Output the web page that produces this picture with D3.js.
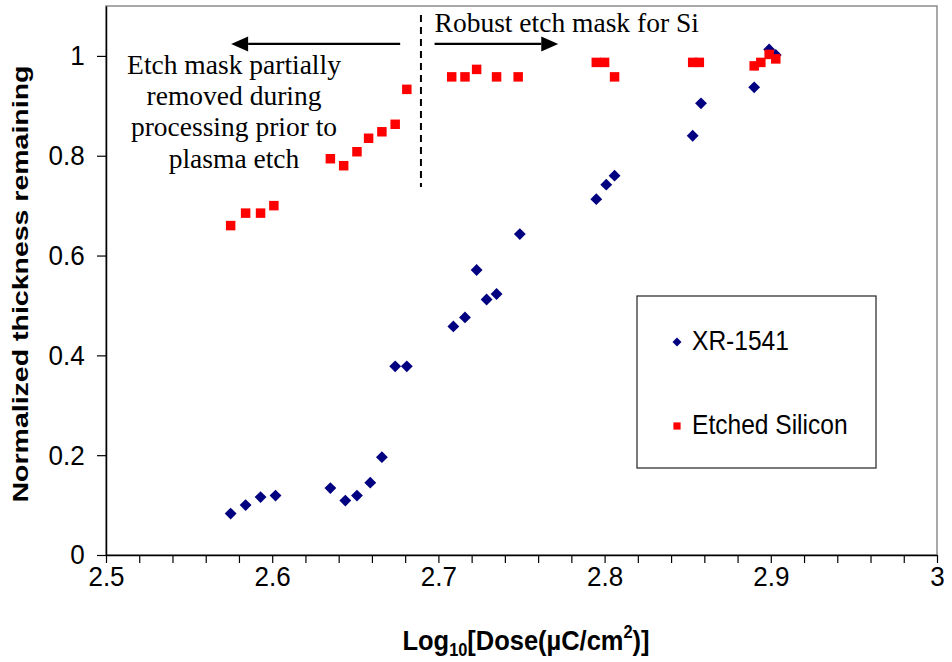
<!DOCTYPE html>
<html>
<head>
<meta charset="utf-8">
<script src="https://cdn.jsdelivr.net/npm/d3@7"></script>
<style>
  body { margin: 0; background: #fff; }
  svg { display: block; }
</style>
</head>
<body>
<svg id="chart" width="952" height="662"></svg>
<script>
// Normalized thickness vs log dose
const xrDose = [2.575, 2.584, 2.593, 2.602, 2.635, 2.644, 2.651, 2.659, 2.666, 2.674, 2.681,
  2.709, 2.716, 2.723, 2.729, 2.735, 2.749, 2.795, 2.801, 2.806, 2.853, 2.858, 2.890, 2.899, 2.903];
const xrThick = [0.083, 0.100, 0.116, 0.119, 0.134, 0.109, 0.119, 0.145, 0.196, 0.378, 0.378,
  0.458, 0.476, 0.571, 0.512, 0.523, 0.643, 0.713, 0.742, 0.760, 0.840, 0.905, 0.937, 1.013, 1.002];

const siDose = [2.575, 2.584, 2.593, 2.601, 2.635, 2.643, 2.651, 2.658, 2.666, 2.674, 2.681,
  2.708, 2.716, 2.723, 2.735, 2.748, 2.795, 2.800, 2.806, 2.853, 2.857, 2.890, 2.894, 2.899, 2.903];
const siThick = [0.660, 0.685, 0.685, 0.700, 0.794, 0.780, 0.808, 0.835, 0.848, 0.863, 0.933,
  0.958, 0.958, 0.973, 0.958, 0.958, 0.987, 0.987, 0.958, 0.987, 0.987, 0.980, 0.987, 1.003, 0.994];

const xTicks = d3.range(0, 26).map((i) => 2.5 + i * 0.02);
const yTicks = [0, 0.2, 0.4, 0.6, 0.8, 1];
const seriesNames = ["XR-1541", "Etched Silicon"];
const leftNote = ["Etch mask partially", "removed during", "processing prior to", "plasma etch"];
const rightNote = "Robust etch mask for Si";

const svg = d3.select("#chart");
const plot = { left: 106, right: 937, top: 6, bottom: 555 };

const x = d3.scaleLinear().domain([2.5, 3]).range([plot.left, plot.right]);
const y = d3.scaleLinear().domain([0, 1.1]).range([plot.bottom, plot.top]);

const tickFont = "'Liberation Sans', Arial, sans-serif";
const squeeze = 0.93;

// plot frame (top/right grey edges)
svg.append("rect")
  .attr("x", plot.left).attr("y", y(1.1))
  .attr("width", plot.right - plot.left).attr("height", plot.bottom - y(1.1))
  .attr("fill", "none").attr("stroke", "#8c8c8c").attr("stroke-width", 1.5);

// x axis with minor ticks every 0.02
const xAxis = svg.append("g")
  .attr("transform", `translate(0,${plot.bottom})`)
  .call(d3.axisBottom(x)
    .tickValues(xTicks)
    .tickSize(8).tickSizeOuter(0).tickPadding(3)
    .tickFormat((v) => Math.round(v * 100) % 10 === 0 ? String(+v.toFixed(1)) : ""));

const yAxis = svg.append("g")
  .attr("transform", `translate(${plot.left},0)`)
  .call(d3.axisLeft(y)
    .tickValues(yTicks)
    .tickSize(9).tickSizeOuter(0).tickPadding(14)
    .tickFormat((v) => String(+v.toFixed(1))));

[xAxis, yAxis].forEach((g) => {
  g.select(".domain").attr("stroke", "#000").attr("stroke-width", 1.5);
  g.selectAll(".tick line").attr("stroke", "#000").attr("stroke-width", 1.2);
  g.selectAll(".tick text")
    .attr("font-family", tickFont).attr("font-size", 28).attr("fill", "#000")
    .attr("transform", `scale(${squeeze},1)`);
});

// axis titles
svg.append("text")
  .attr("transform", `translate(28,284) rotate(-90) scale(1,0.78)`)
  .attr("text-anchor", "middle")
  .attr("font-family", tickFont).attr("font-weight", "bold").attr("font-size", 28.5)
  .text("Normalized thickness remaining");

const xTitle = svg.append("text")
  .attr("transform", `translate(526,650) scale(0.91,1)`)
  .attr("text-anchor", "middle")
  .attr("font-family", tickFont).attr("font-weight", "bold").attr("font-size", 28);
xTitle.append("tspan").text("Log");
xTitle.append("tspan").attr("font-size", 18).attr("dy", 6).text("10");
xTitle.append("tspan").attr("dy", -6).text("[Dose(\u00B5C/cm");
xTitle.append("tspan").attr("font-size", 18).attr("dy", -12).text("2");
xTitle.append("tspan").attr("dy", 12).text(")]");

// markers
const diamond = d3.symbol().type(d3.symbolSquare).size(70)();
const square = d3.symbol().type(d3.symbolSquare).size(90)();

svg.append("g").selectAll("path")
  .data(xrDose.map((d, i) => [d, xrThick[i]]))
  .join("path")
  .attr("d", diamond)
  .attr("transform", (d) => `translate(${x(d[0])},${y(d[1])}) rotate(45)`)
  .attr("fill", "#000080");

svg.append("g").selectAll("path")
  .data(siDose.map((d, i) => [d, siThick[i]]))
  .join("path")
  .attr("d", square)
  .attr("transform", (d) => `translate(${x(d[0])},${y(d[1])})`)
  .attr("fill", "#ff0000");

// annotations: divider and arrows
const divX = x(2.6895);
svg.append("line")
  .attr("x1", divX).attr("x2", divX)
  .attr("y1", y(1.082)).attr("y2", y(0.7375))
  .attr("stroke", "#000").attr("stroke-width", 2).attr("stroke-dasharray", "7,5");

function arrow(x0, x1, yy) {
  const dir = Math.sign(x1 - x0), head = 17, half = 7.5;
  svg.append("line")
    .attr("x1", x0).attr("x2", x1 - dir * head)
    .attr("y1", yy).attr("y2", yy)
    .attr("stroke", "#000").attr("stroke-width", 2.2);
  svg.append("path")
    .attr("d", `M${x1},${yy} L${x1 - dir * head},${yy - half} L${x1 - dir * head},${yy + half} Z`)
    .attr("fill", "#000");
}
arrow(x(2.677), x(2.5753), y(1.024));
arrow(x(2.6977), x(2.7721), y(1.024));

const serif = "'Liberation Serif', 'Times New Roman', serif";
svg.append("text")
  .attr("x", x(2.6977)).attr("y", 32)
  .attr("font-family", serif).attr("font-size", 27.5)
  .text(rightNote);

svg.append("g").selectAll("text")
  .data(leftNote)
  .join("text")
  .attr("x", 234).attr("y", (d, i) => 74 + i * 31.2)
  .attr("text-anchor", "middle")
  .attr("font-family", serif).attr("font-size", 27.5)
  .text((d) => d);

// legend
const legend = svg.append("g");
legend.append("rect")
  .attr("x", 637).attr("y", 296).attr("width", 239).attr("height", 172)
  .attr("fill", "#fff").attr("stroke", "#222").attr("stroke-width", 1.2);

const legendMarks = [
  { d: d3.symbol().type(d3.symbolSquare).size(40)(), rot: 45, color: "#000080", cy: 342 },
  { d: d3.symbol().type(d3.symbolSquare).size(52)(), rot: 0, color: "#ff0000", cy: 426 }
];
legendMarks.forEach((m, i) => {
  legend.append("path")
    .attr("d", m.d)
    .attr("transform", `translate(677,${m.cy}) rotate(${m.rot})`)
    .attr("fill", m.color);
  legend.append("text")
    .attr("transform", `translate(692,${m.cy + 8}) scale(0.91,1)`)
    .attr("font-family", tickFont).attr("font-size", 27)
    .text(seriesNames[i]);
});
</script>
</body>
</html>
